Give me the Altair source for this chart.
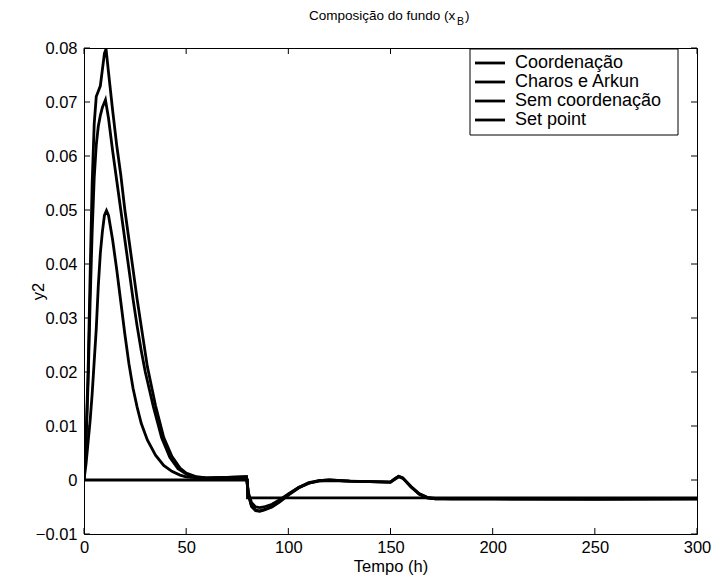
import altair as alt
import pandas as pd

FONT = "Liberation Sans"

series_names = ["Coordenação", "Charos e Arkun", "Sem coordenação", "Set point"]

t_coord = [0, 1, 2, 3, 4, 5, 6, 7, 8, 9, 10, 11, 12, 14, 16, 18, 20, 22, 24, 26,
           28, 31, 35, 39, 43, 47, 50, 55, 60, 70, 79.5, 80.5, 82, 84, 86, 88, 92, 96, 100, 105,
           110, 115, 120, 130, 140, 150, 152, 154, 156, 160, 164, 168, 172, 180, 200, 250, 300]
y_coord = [0, 0.003, 0.007, 0.011, 0.016, 0.022, 0.028, 0.036, 0.042, 0.046,
           0.049, 0.0499, 0.049, 0.0445, 0.039, 0.033, 0.027, 0.0215, 0.017, 0.0135,
           0.0105, 0.0074, 0.0046, 0.0027, 0.0016, 0.0009, 0.0006, 0.0004, 0.0003, 0.0004,
           0.0005, -0.0024, -0.0042, -0.0050, -0.0051, -0.0050, -0.0045, -0.0036, -0.0026, -0.0014,
           -0.0006, -0.0002, -0.0001, -0.0002, -0.0003, -0.0004, 0.0001, 0.0006, 0.0003, -0.0012,
           -0.0025, -0.0032, -0.0034, -0.0035, -0.0035, -0.0035, -0.0035]

t_charos = [0, 1, 2, 3, 4, 5, 6, 7, 8, 9, 10.5, 12, 14, 16, 18, 20, 22, 24, 26, 28,
            30, 34, 38, 42, 46, 50, 55, 60, 70, 79.5, 80.5, 82, 84, 86, 88, 92, 96, 100, 105, 110,
            115, 120, 130, 140, 150, 152, 154, 156, 160, 164, 168, 172, 180, 200, 250, 300]
y_charos = [0, 0.007, 0.018, 0.033, 0.046, 0.056, 0.062, 0.0655, 0.0675, 0.069,
            0.0704, 0.067, 0.061, 0.0555, 0.050, 0.0445, 0.039, 0.0335, 0.0285, 0.024,
            0.020, 0.0135, 0.0078, 0.0042, 0.0021, 0.0011, 0.0005, 0.0004, 0.0005, 0.0006,
            -0.0027, -0.0048, -0.0056, -0.0057, -0.0055, -0.0049, -0.0039, -0.0027, -0.0014, -0.0005,
            -0.0001, 0.0, -0.0002, -0.0003, -0.0004, 0.0002, 0.0007, 0.0004, -0.0012, -0.0026,
            -0.0033, -0.0035, -0.0035, -0.0035, -0.0036, -0.0035]

t_sem = [0, 1, 2, 3, 4, 5, 6, 7, 8, 9, 10, 10.8, 12, 14, 16, 18, 20, 22, 24, 26,
         28, 31, 35, 39, 43, 47, 50, 55, 60, 70, 79.5, 80.5, 82, 84, 86, 88, 92, 96, 100, 105,
         110, 115, 120, 130, 140, 150, 152, 154, 156, 160, 164, 168, 172, 180, 200, 250, 300]
y_sem = [0, 0.008, 0.020, 0.038, 0.055, 0.066, 0.071, 0.072, 0.073, 0.076,
         0.079, 0.0798, 0.0755, 0.0685, 0.062, 0.0565, 0.050, 0.0445, 0.039, 0.0335,
         0.0285, 0.021, 0.0138, 0.0079, 0.0044, 0.0022, 0.0013, 0.0006, 0.0004, 0.0005,
         0.0006, -0.0028, -0.0049, -0.0057, -0.0058, -0.0056, -0.0050, -0.0040, -0.0028, -0.0015,
         -0.0006, -0.0001, 0.0, -0.0002, -0.0003, -0.0004, 0.0002, 0.0007, 0.0004, -0.0013,
         -0.0026, -0.0033, -0.0035, -0.0035, -0.0035, -0.0035, -0.0035]

t_sp = [0, 80, 80, 300]
y_sp = [0, 0, -0.0033, -0.0033]

x_ticks = [0, 50, 100, 150, 200, 250, 300]
y_ticks = [-0.01, 0, 0.01, 0.02, 0.03, 0.04, 0.05, 0.06, 0.07, 0.08]

W, H = 613, 486

rows = []
for name, ts, ys in zip(series_names, [t_coord, t_charos, t_sem, t_sp],
                        [y_coord, y_charos, y_sem, y_sp]):
    for i, (t, y) in enumerate(zip(ts, ys)):
        rows.append({"series": name, "t": t, "y": y, "i": i})
df = pd.DataFrame(rows)

xscale = alt.Scale(domain=[0, 300], nice=False, zero=False)
yscale = alt.Scale(domain=[-0.01, 0.08], nice=False, zero=False)

lines = alt.Chart(df).mark_line(color="black", strokeWidth=2.8, clip=True).encode(
    x=alt.X("t:Q", scale=xscale,
            axis=alt.Axis(values=x_ticks, title="Tempo (h)", ticks=False, domain=False,
                          grid=False, labelPadding=5, titlePadding=3, labelFlush=False)),
    y=alt.Y("y:Q", scale=yscale,
            axis=alt.Axis(values=y_ticks, title="y2", ticks=False, domain=False, grid=False,
                          labelPadding=7, titleX=-46, titleY=H / 2, titleAngle=270,
                          titleAlign="center", titleBaseline="middle",
                          labelExpr="datum.value == 0 ? '0' : format(datum.value, '.2f')")),
    detail="series:N",
    order="i:Q",
)

xt = pd.DataFrame({"v": x_ticks})
yt = pd.DataFrame({"v": y_ticks})
tick_style = dict(color="black", strokeWidth=1)
xtick_b = alt.Chart(xt).mark_rule(**tick_style).encode(
    x=alt.X("v:Q", scale=xscale), y=alt.value(H), y2=alt.value(H - 6))
xtick_t = alt.Chart(xt).mark_rule(**tick_style).encode(
    x=alt.X("v:Q", scale=xscale), y=alt.value(0), y2=alt.value(6))
ytick_l = alt.Chart(yt).mark_rule(**tick_style).encode(
    y=alt.Y("v:Q", scale=yscale), x=alt.value(0), x2=alt.value(6))
ytick_r = alt.Chart(yt).mark_rule(**tick_style).encode(
    y=alt.Y("v:Q", scale=yscale), x=alt.value(W), x2=alt.value(W - 6))

# legend
leg = pd.DataFrame({"label": series_names, "row": [0, 1, 2, 3]})
leg_box = alt.Chart(pd.DataFrame({"a": [0]})).mark_rect(
    fill="white", stroke="black", strokeWidth=1).encode(
    x=alt.value(386), x2=alt.value(594), y=alt.value(1), y2=alt.value(87))
leg_lines = alt.Chart(leg).transform_calculate(yp="15 + 19*datum.row").mark_rule(
    color="black", strokeWidth=2.8).encode(
    x=alt.value(391), x2=alt.value(421), y=alt.Y("yp:Q", scale=None))
leg_text = alt.Chart(leg).transform_calculate(yp="15 + 19*datum.row").mark_text(
    align="left", baseline="middle", font=FONT, fontSize=18, color="black").encode(
    x=alt.value(431), y=alt.Y("yp:Q", scale=None), text="label:N")

# title with subscript
tdf = pd.DataFrame({"a": [0]})
title_main = alt.Chart(tdf).mark_text(
    align="left", baseline="alphabetic", font=FONT, fontSize=13.5, color="black",
    text="Composição do fundo (x").encode(x=alt.value(225), y=alt.value(-28))
title_sub = alt.Chart(tdf).mark_text(
    align="left", baseline="alphabetic", font=FONT, fontSize=10.5, color="black",
    text="B").encode(x=alt.value(373), y=alt.value(-23))
title_end = alt.Chart(tdf).mark_text(
    align="left", baseline="alphabetic", font=FONT, fontSize=13.5, color="black",
    text=")").encode(x=alt.value(381), y=alt.value(-28))

chart = alt.layer(
    lines, xtick_b, xtick_t, ytick_l, ytick_r, leg_box, leg_lines, leg_text,
    title_main, title_sub, title_end
).properties(
    width=W, height=H,
    autosize=alt.AutoSizeParams(type="none"),
    padding={"left": 84, "top": 48, "right": 16, "bottom": 46},
    background="white",
).configure_view(
    stroke="black", strokeWidth=1
).configure_axis(
    labelFont=FONT, titleFont=FONT, labelFontSize=16.5, titleFontSize=16.5,
    labelColor="black", titleColor="black", titleFontWeight="normal",
)

chart.save("out.html", embed_options={"renderer": "svg", "actions": False})
